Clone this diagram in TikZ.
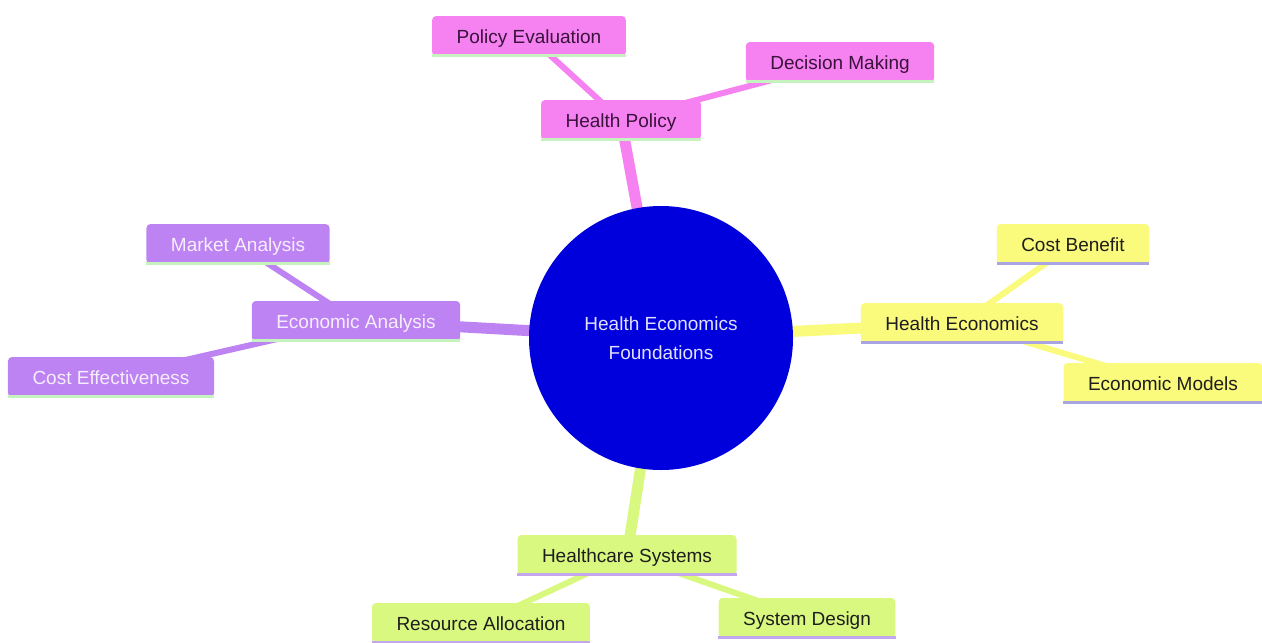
\documentclass[tikz,border=0pt]{standalone}
\usepackage{fontspec}
\setmainfont{Liberation Sans}
\usetikzlibrary{backgrounds}
\definecolor{pinkF}{HTML}{F582F0}
\definecolor{purpF}{HTML}{BD83F2}
\definecolor{yelF}{HTML}{FAFA7C}
\definecolor{grnF}{HTML}{D9F87F}
\definecolor{pinkT}{HTML}{3A123C}
\definecolor{purpT}{HTML}{F6EEFC}
\definecolor{darkT}{HTML}{1E1E1E}
\definecolor{lineG}{HTML}{C6F2C0}
\definecolor{lineL}{HTML}{A9A4E2}
\definecolor{lineV}{HTML}{C3A6EE}
\definecolor{coreB}{HTML}{0000DC}
\tikzset{
  box/.style={rectangle, rounded corners=4pt, minimum height=40pt, inner xsep=24.5pt, inner ysep=0pt, text height=17.5pt, text depth=3pt, font=\fontsize{19}{23}\selectfont},
  pinkbox/.style={box, fill=pinkF, text=pinkT},
  purpbox/.style={box, fill=purpF, text=purpT},
  yelbox/.style={box, fill=yelF, text=darkT},
  grnbox/.style={box, fill=grnF, text=darkT},
  thick edge/.style={line width=11pt},
  thin edge/.style={line width=6pt},
}
\newcommand{\bottomline}[2]{\draw[#2, line width=3pt] ([yshift=0.5pt]#1.south west) -- ([yshift=0.5pt]#1.south east);}
\begin{document}
\begin{tikzpicture}[x=1pt,y=-1pt]
\useasboundingbox (0,0) rectangle (1262,643);
\node[circle, fill=coreB, minimum size=264pt, inner sep=0pt, text=white!88!coreB, align=center, font=\fontsize{19}{29}\selectfont] (core) at (661,338) {Health Economics\\Foundations};

\node[pinkbox] (hp) at (621,120) {Health Policy};
\node[pinkbox] (pe) at (529,36) {Policy Evaluation};
\node[pinkbox] (dm) at (840,62) {Decision Making};

\node[yelbox] (he) at (962,323) {Health Economics};
\node[yelbox] (cb) at (1073,244) {Cost Benefit};
\node[yelbox] (em) at (1163,383) {Economic Models};

\node[purpbox] (ea) at (356,321) {Economic Analysis};
\node[purpbox] (ma) at (238,244) {Market Analysis};
\node[purpbox] (ce) at (111,377) {Cost Effectiveness};

\node[grnbox] (hs) at (627,555) {Healthcare Systems};
\node[grnbox] (ra) at (481,623) {Resource Allocation};
\node[grnbox] (sd) at (807,618) {System Design};

\bottomline{hp}{lineG}
\bottomline{pe}{lineG}
\bottomline{dm}{lineG}
\bottomline{ea}{lineG}
\bottomline{ma}{lineG}
\bottomline{ce}{lineG}
\bottomline{he}{lineL}
\bottomline{cb}{lineL}
\bottomline{em}{lineL}
\bottomline{hs}{lineV}
\bottomline{ra}{lineV}
\bottomline{sd}{lineV}

\begin{scope}[on background layer]
\draw[thick edge, pinkF] (core.center) -- (hp.center);
\draw[thin edge, pinkF] (hp.center) -- (pe.center);
\draw[thin edge, pinkF] (hp.center) -- (dm.center);
\draw[thick edge, yelF] (core.center) -- (he.center);
\draw[thin edge, yelF] (he.center) -- (cb.center);
\draw[thin edge, yelF] (he.center) -- (em.center);
\draw[thick edge, purpF] (core.center) -- (ea.center);
\draw[thin edge, purpF] (ea.center) -- (ma.center);
\draw[thin edge, purpF] (ea.center) -- (ce.center);
\draw[thick edge, grnF] (core.center) -- (hs.center);
\draw[thin edge, grnF] (hs.center) -- (ra.center);
\draw[thin edge, grnF] (hs.center) -- (sd.center);
\end{scope}
\end{tikzpicture}
\end{document}
